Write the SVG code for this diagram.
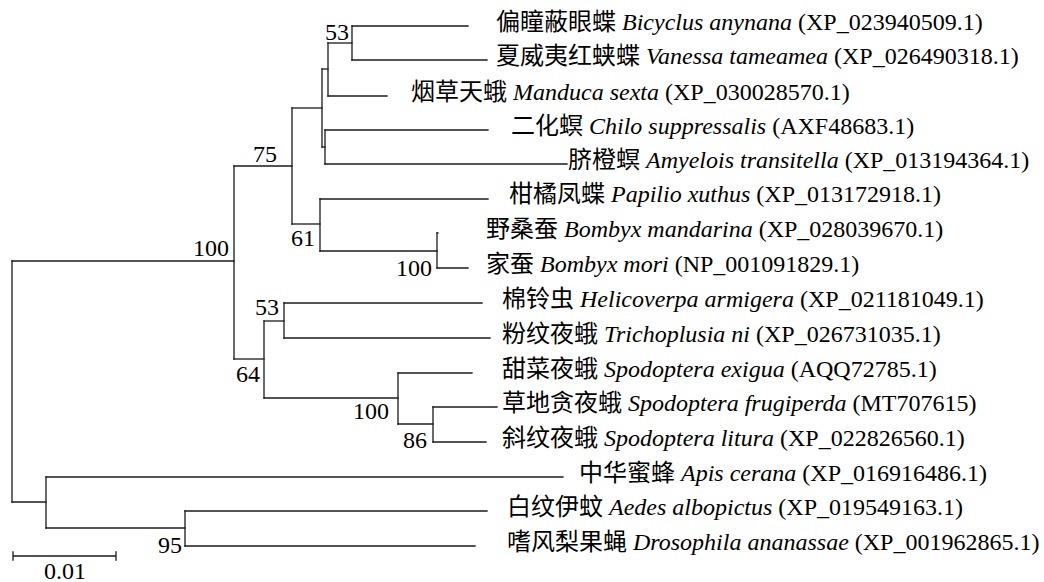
<svg xmlns="http://www.w3.org/2000/svg" width="1044" height="582" viewBox="0 0 1044 582">
<style>
  .br { fill: none; stroke: #1a1a1a; stroke-width: 1.3; stroke-linecap: square; }
  .lab { font-family: "Liberation Serif", "Noto Sans CJK SC", serif; font-size: 24px; fill: #000; }
  .bs { font-family: "Liberation Serif", serif; font-size: 24px; fill: #000; text-anchor: end; }
  .it { font-style: italic; }
</style>
<rect width="1044" height="582" fill="#fff"/>
<g id="connectors" class="br">
  <path d="M12,261 V502"/>
  <path d="M12,261 H234"/>
  <path d="M234,166 V359"/>
  <path d="M234,166 H292"/>
  <path d="M292,108 V224"/>
  <path d="M292,108 H322"/>
  <path d="M322,69 V147"/>
  <path d="M322,69 H328"/>
  <path d="M328,43 V96"/>
  <path d="M328,43 H352"/>
  <path d="M352,26 V60"/>
  <path d="M352,26 H468"/>
  <path d="M352,60 H487"/>
  <path d="M328,96 H387"/>
  <path d="M322,147 H325"/>
  <path d="M325,130 V164"/>
  <path d="M325,130 H488"/>
  <path d="M325,164 H567"/>
  <path d="M292,224 H320"/>
  <path d="M320,199 V251"/>
  <path d="M320,199 H488"/>
  <path d="M320,251 H437"/>
  <path d="M437,233 V268"/>
  <path d="M437,233 H438"/>
  <path d="M437,268 H468"/>
  <path d="M234,359 H264"/>
  <path d="M264,321 V398"/>
  <path d="M264,321 H284"/>
  <path d="M284,303 V338"/>
  <path d="M284,303 H482"/>
  <path d="M284,338 H490"/>
  <path d="M264,398 H398"/>
  <path d="M398,373 V424"/>
  <path d="M398,373 H472"/>
  <path d="M398,424 H433"/>
  <path d="M433,407 V442"/>
  <path d="M433,407 H497"/>
  <path d="M433,442 H486"/>
  <path d="M12,502 H46"/>
  <path d="M46,477 V528"/>
  <path d="M46,477 H563"/>
  <path d="M46,528 H185"/>
  <path d="M185,511 V546"/>
  <path d="M185,511 H487"/>
  <path d="M185,546 H475"/>
</g>
<g id="bootstrap">
  <g id="n_root100"><text class="bs" x="229" y="256">100</text></g>
  <g id="n_75"><text class="bs" x="277" y="162">75</text></g>
  <g id="n_53a"><text class="bs" x="349" y="40">53</text></g>
  <g id="n_61"><text class="bs" x="315" y="246">61</text></g>
  <g id="n_100b"><text class="bs" x="432" y="276">100</text></g>
  <g id="n_53b"><text class="bs" x="279" y="315">53</text></g>
  <g id="n_64"><text class="bs" x="260" y="382">64</text></g>
  <g id="n_100s"><text class="bs" x="389" y="419">100</text></g>
  <g id="n_86"><text class="bs" x="427" y="448">86</text></g>
  <g id="n_95"><text class="bs" x="182" y="553">95</text></g>
</g>
<g id="leaf_bicyclus"><text class="lab" x="496" y="30">偏瞳蔽眼蝶 <tspan class="it">Bicyclus anynana</tspan> (XP_023940509.1)</text></g>
<g id="leaf_vanessa"><text class="lab" x="496" y="64">夏威夷红蛱蝶 <tspan class="it">Vanessa tameamea</tspan> (XP_026490318.1)</text></g>
<g id="leaf_manduca"><text class="lab" x="411" y="100">烟草天蛾 <tspan class="it">Manduca sexta</tspan> (XP_030028570.1)</text></g>
<g id="leaf_chilo"><text class="lab" x="511" y="134">二化螟 <tspan class="it">Chilo suppressalis</tspan> (AXF48683.1)</text></g>
<g id="leaf_amyelois"><text class="lab" x="568" y="168">脐橙螟 <tspan class="it">Amyelois transitella</tspan> (XP_013194364.1)</text></g>
<g id="leaf_papilio"><text class="lab" x="509" y="202">柑橘凤蝶 <tspan class="it">Papilio xuthus</tspan> (XP_013172918.1)</text></g>
<g id="leaf_mandarina"><text class="lab" x="486" y="237">野桑蚕 <tspan class="it">Bombyx mandarina</tspan> (XP_028039670.1)</text></g>
<g id="leaf_mori"><text class="lab" x="486" y="272">家蚕 <tspan class="it">Bombyx mori</tspan> (NP_001091829.1)</text></g>
<g id="leaf_helicoverpa"><text class="lab" x="502" y="307">棉铃虫 <tspan class="it">Helicoverpa armigera</tspan> (XP_021181049.1)</text></g>
<g id="leaf_trichoplusia"><text class="lab" x="502" y="342">粉纹夜蛾 <tspan class="it">Trichoplusia ni</tspan> (XP_026731035.1)</text></g>
<g id="leaf_exigua"><text class="lab" x="502" y="377">甜菜夜蛾 <tspan class="it">Spodoptera exigua</tspan> (AQQ72785.1)</text></g>
<g id="leaf_frugiperda"><text class="lab" x="502" y="411">草地贪夜蛾 <tspan class="it">Spodoptera frugiperda</tspan> (MT707615)</text></g>
<g id="leaf_litura"><text class="lab" x="502" y="446">斜纹夜蛾 <tspan class="it">Spodoptera litura</tspan> (XP_022826560.1)</text></g>
<g id="leaf_apis"><text class="lab" x="579" y="481">中华蜜蜂 <tspan class="it">Apis cerana</tspan> (XP_016916486.1)</text></g>
<g id="leaf_aedes"><text class="lab" x="507" y="515">白纹伊蚊 <tspan class="it">Aedes albopictus</tspan> (XP_019549163.1)</text></g>
<g id="leaf_drosophila"><text class="lab" x="507" y="550">嗜风梨果蝇 <tspan class="it">Drosophila ananassae</tspan> (XP_001962865.1)</text></g>
<g id="scalebar">
  <path class="br" d="M13,556 H116 M13,552 V560 M116,552 V560"/>
  <text class="bs" x="86" y="579" style="text-anchor:start" dx="-42">0.01</text>
</g>
</svg>
